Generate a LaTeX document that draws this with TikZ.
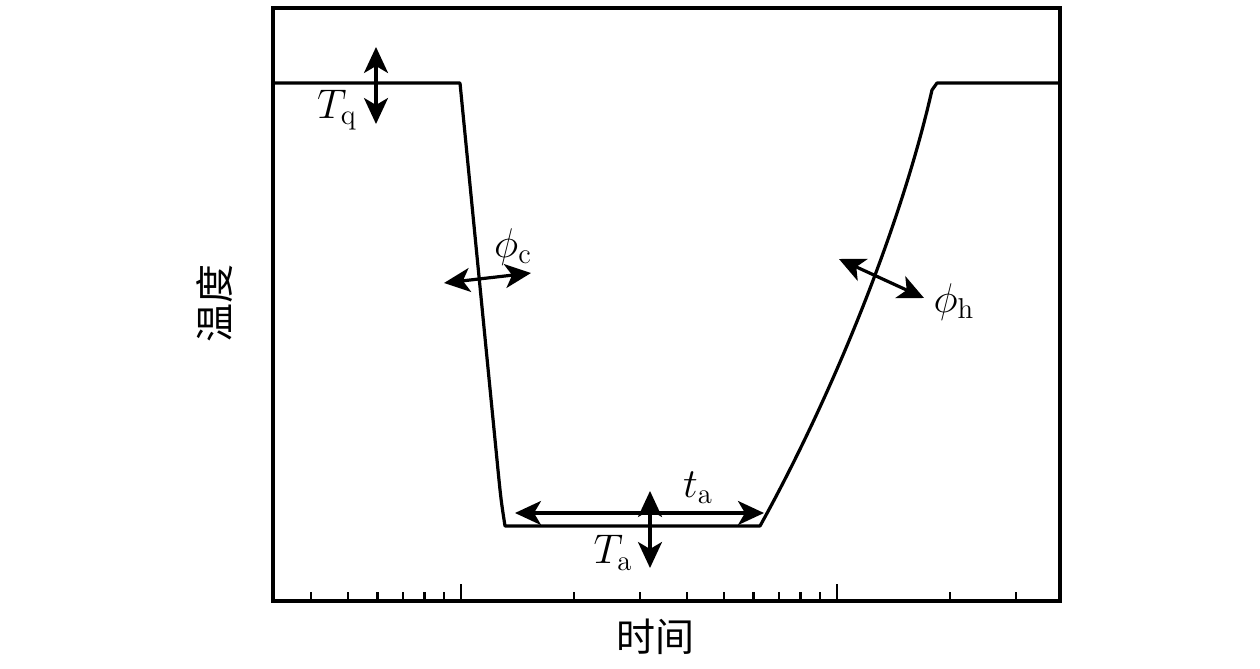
\documentclass[tikz,border=0pt]{standalone}
\usepackage{fontspec}
\newfontfamily\cjk{Noto Sans CJK SC}
\usetikzlibrary{arrows.meta}
\begin{document}
\begin{tikzpicture}[x=0.5pt,y=-0.5pt,
  frame/.style={line width=1.6pt},
  curve/.style={line width=1.6pt,line join=round},
  tick/.style={line width=1.1pt},
  dbl/.style={line width=1.6pt,{Stealth[length=13pt,width=12pt,inset=3.5pt]}-{Stealth[length=13pt,width=12pt,inset=3.5pt]}},
  lbl/.style={inner sep=0pt,font=\fontsize{20.5}{22}\selectfont},
  cjklbl/.style={inner sep=0pt,font=\fontsize{19.5}{21}\selectfont\cjk}]
\useasboundingbox (0,0) rectangle (1260,669);
% frame
\draw[frame] (273,8) rectangle (1060,601);
% ticks
\foreach \x in {311,347.6,377.4,402.6,424.4,443.6,574,640,687,724,753.4,778.6,800.4,819.6,950,1016}
  \draw[tick] (\x,601) -- (\x,592);
\foreach \x in {460.8,837}
  \draw[tick] (\x,601) -- (\x,584);
% curve
\draw[curve] (273,83) -- (460,83) -- (498,470) .. controls (501,500) .. (505,526)
  -- (760,526) .. controls (830,400) and (900,230) .. (932,90) -- (937,83) -- (1060,83);
% arrow ends
\coordinate (tq1) at (376,47);
\coordinate (tq2) at (376,124);
\coordinate (pc1) at (444,283);
\coordinate (pc2) at (531,273);
\coordinate (ph1) at (839,259);
\coordinate (ph2) at (924,298);
\coordinate (ta1) at (515,513);
\coordinate (ta2) at (764,513);
\coordinate (Ta1) at (650,491);
\coordinate (Ta2) at (650,568);
\draw[dbl] (tq1) -- (tq2);
\draw[dbl] (pc1) -- (pc2);
\draw[dbl] (ph1) -- (ph2);
\draw[dbl] (ta1) -- (ta2);
\draw[dbl] (Ta1) -- (Ta2);
% labels
\node[lbl] (Tq) at (337,110) {$T_{\mathrm{q}}$};
\node[lbl] (phic) at (513,247) {$\phi_{\mathrm{c}}$};
\node[lbl] (phih) at (954,302) {$\phi_{\mathrm{h}}$};
\node[lbl] (ta) at (698,488) {$t_{\mathrm{a}}$};
\node[lbl] (Ta) at (613,553) {$T_{\mathrm{a}}$};
\node[cjklbl] (xl) at (655,637) {时间};
\node[cjklbl,rotate=90] (yl) at (215,303) {温度};
\end{tikzpicture}
\end{document}
